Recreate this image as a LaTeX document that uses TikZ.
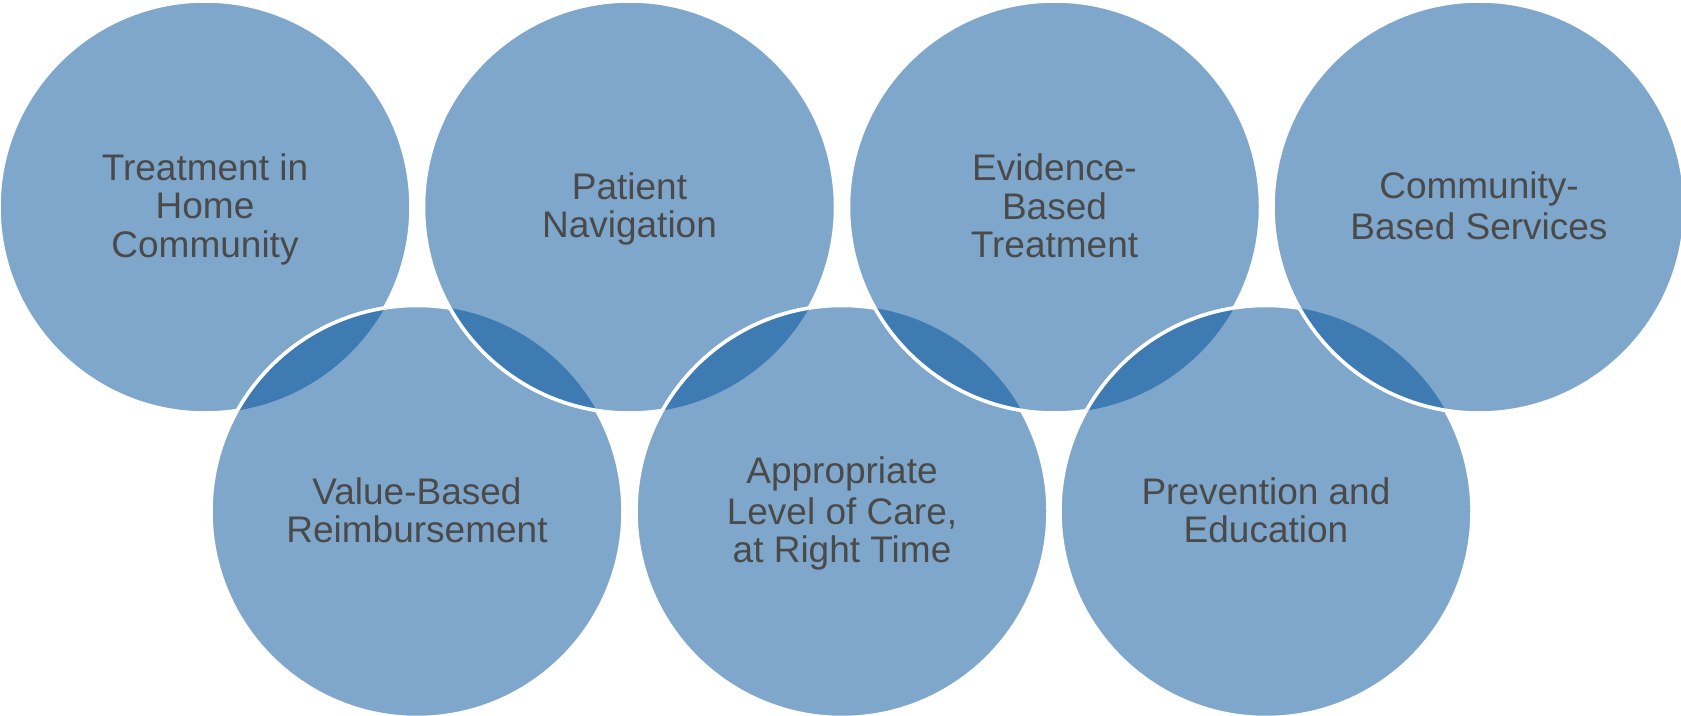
\documentclass[tikz,border=0pt]{standalone}
\usepackage{fontspec}
\setmainfont{Liberation Sans}
\definecolor{ringfill}{HTML}{7FA7CC}
\definecolor{lensfill}{HTML}{3E7BB3}
\definecolor{labeltext}{HTML}{4A4A4A}
\newcommand\lstrut{\rule[-3.55pt]{0pt}{19.15pt}}
\tikzset{
  ring/.style={circle, minimum size=206pt, inner sep=0pt, outer sep=0pt, fill=ringfill, draw=white, line width=1.75pt, text=labeltext, align=center, font=\fontsize{18.5}{19.15}\selectfont},
  lens/.style={fill=lensfill},
  seam/.style={draw=white, line width=1.75pt}
}
\begin{document}
\begin{tikzpicture}[x=0.5pt,y=-0.5pt]
\useasboundingbox (0,0) rectangle (1681,716);
\node[ring] (t1) at (205,207) {\lstrut Treatment in\\\lstrut Home\\\lstrut Community};
\node[ring] (b1) at (417,511.5) {\lstrut Value-Based\\\lstrut Reimbursement};
\node[ring] (t2) at (629.5,207) {\lstrut Patient\\\lstrut Navigation};
\node[ring] (b2) at (842,511.5) {\lstrut Appropriate\\\lstrut Level of Care,\\\lstrut at Right Time};
\node[ring] (t3) at (1054.5,207) {\lstrut Evidence-\\\lstrut Based\\\lstrut Treatment};
\node[ring] (b3) at (1266,511.5) {\lstrut Prevention and\\\lstrut Education};
\node[ring] (t4) at (1479,207) {\lstrut Community-\\\lstrut Based Services};
% overlaps
\foreach \u/\o in {t1/b1, b1/t2, t2/b2, b2/t3, t3/b3, b3/t4}{
  \begin{scope}
    \clip (\u.center) circle[radius=103pt];
    \fill[lens] (\o.center) circle[radius=103pt];
    \draw[seam] (\o.center) circle[radius=103pt];
  \end{scope}
}
\end{tikzpicture}
\end{document}
